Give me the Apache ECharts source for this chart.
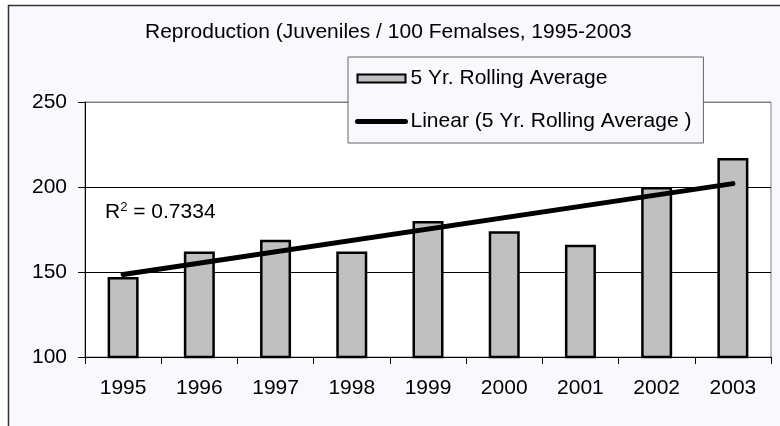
<!DOCTYPE html>
<html>
<head>
<meta charset="utf-8">
<script src="https://cdn.jsdelivr.net/npm/echarts@6/dist/echarts.min.js"></script>
<style>
  html, body { margin: 0; padding: 0; background: #fff; }
  #chart { width: 780px; height: 426px; }
</style>
</head>
<body>
<div id="chart"></div>
<script>
  // data
  var years = ['1995', '1996', '1997', '1998', '1999', '2000', '2001', '2002', '2003'];
  var rollingAvg = [147, 162, 169, 162, 180, 174, 166, 200, 217];
  // linear trend end points (as drawn)
  var trendEnds = [['1995', 148.5], ['2003', 202]];
  var yTicks = [100, 150, 200, 250];
  var r2Text = '0.7334';

  var font = 'Liberation Sans, Arial, sans-serif';
  var myChart = echarts.init(document.getElementById('chart'));

  var option = {
    backgroundColor: '#fff',
    animation: false,
    textStyle: { fontFamily: font },
    graphic: [
      {
        type: 'rect',
        z: -10,
        shape: { x: 8.5, y: 5.5, width: 800, height: 450 },
        style: { fill: '#f8f8ff', stroke: '#333', lineWidth: 1.5 }
      },
      {
        type: 'text',
        left: 105,
        top: 201,
        style: {
          text: '{a|R}{b|2}{a| = ' + r2Text + '}',
          rich: {
            a: { fontSize: 21, fontFamily: font, fill: '#000', lineHeight: 22 },
            b: { fontSize: 13, fontFamily: font, fill: '#000', verticalAlign: 'top', lineHeight: 22 }
          }
        }
      }
    ],
    title: {
      text: 'Reproduction (Juveniles / 100 Femalses, 1995-2003',
      left: 145,
      top: 22,
      padding: 0,
      textStyle: { fontSize: 21, fontWeight: 'normal', color: '#000', fontFamily: font }
    },
    legend: {
      orient: 'vertical',
      left: 348,
      top: 57,
      padding: [11, 12, 11, 7],
      itemGap: 22,
      itemWidth: 48,
      itemHeight: 8,
      backgroundColor: '#f8f8ff',
      borderColor: '#666',
      borderWidth: 1,
      textStyle: { fontSize: 21, color: '#000', fontFamily: font },
      data: [
        {
          name: '5 Yr. Rolling Average',
          icon: 'rect',
          itemStyle: { color: '#c0c0c0', borderColor: '#000', borderWidth: 2 }
        },
        {
          name: 'Linear (5 Yr. Rolling Average )',
          itemStyle: { color: 'rgba(0,0,0,0)', borderWidth: 0 },
          lineStyle: { color: '#000', width: 5 }
        }
      ]
    },
    grid: {
      left: 85,
      right: 9,
      top: 102,
      bottom: 69,
      show: true,
      backgroundColor: '#fff',
      borderColor: '#808080',
      borderWidth: 1
    },
    xAxis: {
      type: 'category',
      data: years,
      boundaryGap: true,
      axisLine: { lineStyle: { color: '#000', width: 1 } },
      axisTick: { show: true, length: 7, lineStyle: { color: '#000' } },
      axisLabel: { fontSize: 21, color: '#000', margin: 21, fontFamily: font }
    },
    yAxis: {
      type: 'value',
      min: yTicks[0],
      max: yTicks[yTicks.length - 1],
      interval: yTicks[1] - yTicks[0],
      axisLine: { show: true, lineStyle: { color: '#000', width: 1 } },
      axisTick: { show: true, length: 7, lineStyle: { color: '#000' } },
      axisLabel: { fontSize: 21, color: '#000', margin: 18, fontFamily: font },
      splitLine: { show: true, lineStyle: { color: ['#000', '#000', '#000', '#808080'], width: 1 } }
    },
    series: [
      {
        name: '5 Yr. Rolling Average',
        type: 'bar',
        barWidth: 31,
        itemStyle: { color: '#c0c0c0', borderColor: '#000', borderWidth: 2.5 },
        data: rollingAvg
      },
      {
        name: 'Linear (5 Yr. Rolling Average )',
        type: 'line',
        symbol: 'none',
        lineStyle: { color: '#000', width: 5, cap: 'round' },
        itemStyle: { color: '#000' },
        z: 5,
        data: trendEnds
      }
    ]
  };
  option && myChart.setOption(option);
</script>
</body>
</html>
